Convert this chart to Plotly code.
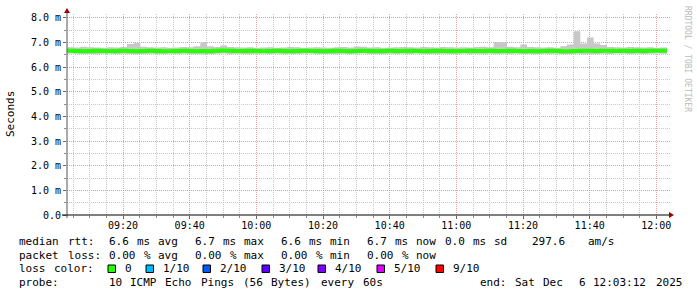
import plotly.graph_objects as go
import pandas as pd

# ---------------- data (2-minute bins, ms) ----------------
start_time = "2025-12-06 09:03:12"
end_time = "2025-12-06 12:04:06"
bin_minutes = 2

median_ms = [6.66,6.65,6.64,6.65,6.66,6.65,6.64,6.65,6.66,6.65,
             6.64,6.65,6.66,6.65,6.64,6.64,6.65,6.66,6.65,6.64,
             6.65,6.64,6.66,6.67,6.66,6.65,6.65,6.66,6.65,6.64,
             6.65,6.66,6.65,6.64,6.65,6.66,6.65,6.65,6.64,6.65,
             6.66,6.65,6.64,6.65,6.66,6.65,6.64,6.65,6.66,6.65,
             6.65,6.66,6.65,6.64,6.65,6.66,6.65,6.65,6.64,6.65,
             6.66,6.65,6.65,6.66,6.65,6.65,6.66,6.65,6.64,6.65,
             6.64,6.65,6.66,6.65,6.64,6.64,6.65,6.66,6.66,6.65,
             6.66,6.66,6.65,6.66,6.65,6.66,6.65,6.66,6.66,6.66]

smoke_hi_ms = [6.80,6.79,6.82,6.80,6.79,6.78,6.80,6.79,6.81,6.93,
               6.97,6.82,6.80,6.79,6.80,6.78,6.79,6.81,6.80,6.84,
               7.00,6.84,6.81,6.87,6.81,6.80,6.79,6.80,6.78,6.79,
               6.80,6.78,6.79,6.81,6.80,6.78,6.79,6.80,6.79,6.78,
               6.80,6.81,6.79,6.83,6.82,6.79,6.80,6.78,6.79,6.80,
               6.81,6.80,6.79,6.81,6.80,6.79,6.81,6.80,6.79,6.80,
               6.79,6.81,6.82,6.80,7.00,7.00,6.82,6.80,6.91,6.81,
               6.80,6.79,6.80,6.78,6.84,6.91,7.45,6.95,7.20,6.95,
               6.89,6.81,6.80,6.79,6.81,6.80,6.79,6.80,6.78,6.79]

smoke_lo_ms = [6.55,6.54,6.54,6.53,6.52,6.54,6.55,6.53,6.54,6.53,
               6.52,6.53,6.54,6.53,6.54,6.55,6.53,6.54,6.52,6.54,
               6.52,6.53,6.54,6.55,6.53,6.54,6.53,6.52,6.54,6.55,
               6.53,6.54,6.52,6.54,6.53,6.54,6.55,6.53,6.54,6.53,
               6.52,6.54,6.53,6.54,6.55,6.53,6.54,6.52,6.54,6.53,
               6.54,6.53,6.55,6.54,6.53,6.52,6.54,6.53,6.54,6.55,
               6.53,6.54,6.52,6.54,6.53,6.54,6.53,6.55,6.54,6.53,
               6.52,6.54,6.53,6.54,6.52,6.53,6.54,6.52,6.52,6.53,
               6.54,6.53,6.55,6.54,6.53,6.54,6.53,6.54,6.55,6.54]

y_tick_vals = [0, 1, 2, 3, 4, 5, 6, 7, 8]
y_tick_text = ["0.0", "1.0 m", "2.0 m", "3.0 m", "4.0 m", "5.0 m", "6.0 m", "7.0 m", "8.0 m"]

legend_line1 = ["median rtt:", "6.6 ms avg", "6.7 ms max", "6.6 ms min", "6.7 ms now", "0.0 ms sd", "297.6", "am/s"]
legend_line2 = ["packet loss:", "0.00 % avg", "0.00 % max", "0.00 % min", "0.00 % now"]
loss_labels = ["0", "1/10", "2/10", "3/10", "4/10", "5/10", "9/10"]
loss_colors = ["#26ff00", "#00b8ff", "#0059ff", "#5e00ff", "#7e00ff", "#dd00ff", "#ff0000"]
probe_line = ["probe:", "10 ICMP Echo Pings (56 Bytes) every 60s", "end: Sat Dec  6 12:03:12 2025"]

# ---------------- geometry helpers ----------------
W, H = 697, 297
L, R, T, B = 67, 670, 14, 215
PW, PH = R - L, B - T
CHAR_W = 7.05  # legend character advance in the reference
LEG_SIZE = 11


def px(x):
    return (x - L) / PW


def py(y):
    return (B - y) / PH


MONO = "DejaVu Sans Mono"

times = pd.date_range(start_time, periods=len(median_ms) + 1, freq=f"{bin_minutes}min")
med = median_ms + [median_ms[-1]]
hi = smoke_hi_ms + [smoke_hi_ms[-1]]
lo = smoke_lo_ms + [smoke_lo_ms[-1]]

fig = go.Figure()
fig.add_trace(go.Scatter(x=times, y=lo, mode="lines", line=dict(width=0, shape="hv"),
                         hoverinfo="skip", showlegend=False))
fig.add_trace(go.Scatter(x=times, y=hi, mode="lines", line=dict(width=0, shape="hv"),
                         fill="tonexty", fillcolor="#c8c8c8", hoverinfo="skip", showlegend=False))
fig.add_trace(go.Scatter(x=times, y=med, mode="lines", line=dict(width=4, shape="hv", color="#26ff00"),
                         showlegend=False))

major_grid = "rgba(235,150,150,0.9)"
minor_grid = "#c8c8c8"
dash = "1px,1px"

fig.update_layout(
    width=W, height=H,
    margin=dict(l=L, r=W - R, t=T, b=H - B, pad=0),
    paper_bgcolor="white", plot_bgcolor="white",
    showlegend=False,
    font=dict(family=MONO, size=10, color="#000"),
    xaxis=dict(
        type="date", range=[start_time, end_time],
        tickformat="%H:%M", dtick=1200000, tick0="2025-12-06 09:20:00",
        showgrid=True, gridcolor=major_grid, griddash=dash, gridwidth=1,
        ticks="outside", ticklen=3, tickcolor="#666", ticklabelstandoff=-2,
        tickfont=dict(family=MONO, size=10, color="#000"),
        minor=dict(dtick=300000, tick0="2025-12-06 09:20:00", showgrid=True,
                   gridcolor=minor_grid, griddash=dash, ticks="outside", ticklen=2, tickcolor="#888"),
        zeroline=False, showline=False, fixedrange=True,
    ),
    yaxis=dict(
        range=[0, 8.15], tickmode="array", tickvals=y_tick_vals, ticktext=y_tick_text,
        showgrid=True, gridcolor=major_grid, griddash=dash, gridwidth=1,
        ticks="outside", ticklen=3, tickcolor="#666",
        tickfont=dict(family=MONO, size=10, color="#000"),
        minor=dict(dtick=0.5, tick0=0, showgrid=True, gridcolor=minor_grid, griddash=dash,
                   ticks="outside", ticklen=2, tickcolor="#888"),
        zeroline=False, showline=False, fixedrange=True,
    ),
)

shapes = []
# axis lines
shapes.append(dict(type="line", xref="paper", yref="paper", x0=px(67), x1=px(67), y0=py(218), y1=py(10),
                   line=dict(color="#555", width=1), layer="above"))
shapes.append(dict(type="line", xref="paper", yref="paper", x0=px(62), x1=px(670), y0=py(215), y1=py(215),
                   line=dict(color="#000", width=1), layer="above"))
# arrows
shapes.append(dict(type="path", xref="paper", yref="paper",
                   path=f"M {px(64)},{py(13)} L {px(70)},{py(13)} L {px(67)},{py(8)} Z",
                   fillcolor="#a00000", line=dict(width=0), layer="above"))
shapes.append(dict(type="path", xref="paper", yref="paper",
                   path=f"M {px(669)},{py(212)} L {px(669)},{py(218)} L {px(674)},{py(215)} Z",
                   fillcolor="#a00000", line=dict(width=0), layer="above"))

annotations = []


def txt(s, x, y, size=LEG_SIZE, color="#000", angle=0, xanchor="left"):
    annotations.append(dict(
        text=s, xref="paper", yref="paper", x=px(x), y=py(y), xanchor=xanchor, yanchor="middle",
        showarrow=False, textangle=angle, font=dict(family=MONO, size=size, color=color)))


def segment(s, x, y):
    # place each word on the reference's character grid
    col = 0
    for word in s.split(" "):
        if word:
            txt(word, x + col * CHAR_W, y)
        col += len(word) + 1


for s, x in zip(legend_line1, [16.5, 107, 193, 279, 365, 443, 530, 586]):
    segment(s, x, 241)
for s, x in zip(legend_line2, [16.5, 107, 193, 279, 365]):
    segment(s, x, 255)
segment("loss color:", 16.5, 268.5)
sq_x = [108, 146, 203, 262, 318, 377, 436]
for lab, col, x in zip(loss_labels, loss_colors, sq_x):
    shapes.append(dict(type="rect", xref="paper", yref="paper",
                       x0=px(x), x1=px(x + 7.5), y0=py(272.5), y1=py(265),
                       fillcolor=col, line=dict(color="#000", width=1)))
    segment(lab, x + 15, 268.5)
for s, x in zip(probe_line, [16.5, 107, 478]):
    segment(s, x, 282.5)

# y axis title
txt("Seconds", 11, 114, size=11, angle=-90, xanchor="center")
# watermark
txt("RRDTOOL / TOBI OETIKER", 687, 59, size=8, color="#bbbbbb", angle=90, xanchor="center")

fig.update_layout(shapes=shapes, annotations=annotations)
fig.write_html("out.html")
